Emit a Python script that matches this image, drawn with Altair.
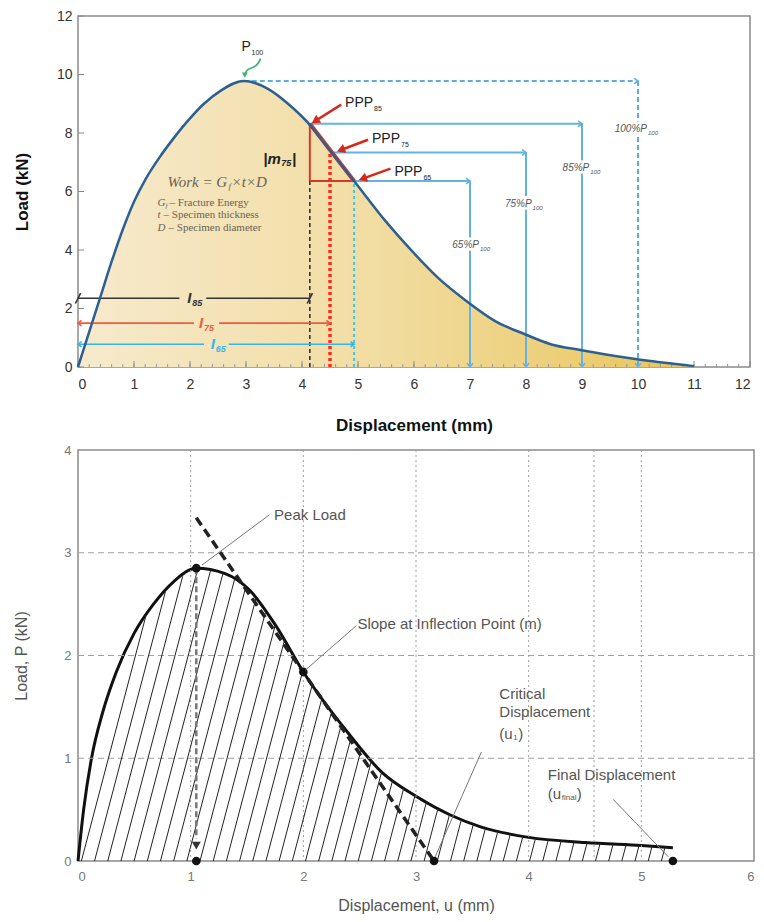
import altair as alt
import numpy as np
import pandas as pd

# ================= TOP PANEL VALUES =================
top_disp = [0, 0.2, 0.4, 0.6, 0.8, 1.0, 1.2, 1.45, 1.72, 2.0, 2.25, 2.55, 2.96, 3.4, 3.75,
            4.14, 4.5, 4.93, 5.5, 5.97, 6.44, 6.94, 7.45, 7.98, 8.44, 8.97, 9.95, 11.0]
top_load = [0, 1.2, 2.4, 3.6, 4.7, 5.65, 6.4, 7.15, 7.85, 8.5, 9.0, 9.45, 9.78, 9.5, 9.0,
            8.28, 7.4, 6.36, 4.97, 3.95, 3.03, 2.25, 1.57, 1.12, 0.78, 0.58, 0.27, 0.03]
peak_disp = 2.96
peak_load = 9.78
ppp_pct = [85, 75, 65]
ppp_disp = [4.14, 4.5, 4.93]
ppp_vline = [9, 8, 7]
peak_vline = 10
top_xticks = list(range(0, 13))
top_yticks = list(range(0, 13, 2))
top_minor = [round(0.2 * i, 1) for i in range(61)]

i_names = ["85", "75", "65"]
i_y = [2.35, 1.5, 0.78]
i_gap = [(1.81, 2.29), (2.07, 2.52), (2.25, 2.69)]
i_label_x = [1.95, 2.16, 2.37]
i_colors = ["#333333", "#f25a3c", "#36b6e6"]

ppp_label_x = [4.77, 5.25, 5.65]
ppp_label_y = [9.04, 7.81, 6.65]
ppp_arrow_from = [(4.70, 8.97), (5.18, 7.77), (5.58, 6.78)]
ppp_arrow_to = [(4.16, 8.32), (4.61, 7.36), (5.0, 6.38)]
pct_labels = ["100%P", "85%P", "75%P", "65%P"]
pct_label_x = [10.16, 9.13, 8.1, 7.16]
pct_label_y = [8.14, 6.82, 5.56, 4.16]
p100_pos = (2.92, 10.94)
p100_arrow = [(3.26, 10.54), (3.19, 10.26), (3.01, 10.19), (2.98, 9.98)]
m75_pos = (3.31, 7.12)
formula_pos = (1.6, 6.34)
legend_x = 1.42
legend_y = [5.62, 5.2, 4.76]

# ================= BOTTOM PANEL VALUES =================
bot_disp = [0, 0.05, 0.12, 0.22, 0.34, 0.5, 0.67, 0.85, 1.05, 1.3, 1.52, 1.75, 2.0, 2.38, 2.7,
            3.0, 3.3, 3.58, 4.0, 4.5, 5.0, 5.28]
bot_load = [0, 0.5, 1.0, 1.45, 1.84, 2.22, 2.5, 2.72, 2.85, 2.8, 2.64, 2.3, 1.84, 1.27, 0.86,
            0.63, 0.45, 0.33, 0.23, 0.18, 0.15, 0.13]
bot_peak = (1.05, 2.85)
bot_inflect = (2.0, 1.84)
tangent = [(1.05, 3.34), (3.16, 0.0)]
u_crit = 3.16
u_final = 5.28
bot_xticks = [0, 1, 2, 3, 4, 5, 6]
bot_yticks = [0, 1, 2, 3, 4]
grid_v = [1, 2, 3, 4, 4.58, 5]
grid_h = [1, 2, 3]
hatch_step = 0.117
hatch_lean = 0.24
leaders = [((1.1, 2.88), (1.7, 3.37)), ((2.02, 1.86), (2.47, 2.29)),
           ((3.17, 0.04), (3.58, 1.06)), ((4.75, 0.6), (5.24, 0.04))]
bot_labels = [(1.74, 3.37, "Peak Load"), (2.48, 2.31, "Slope at Inflection Point (m)"),
              (3.74, 1.63, "Critical"), (3.74, 1.45, "Displacement"),
              (4.17, 0.84, "Final Displacement")]
u1_pos = (3.74, 1.24)
ufinal_pos = (4.17, 0.65)

SANS = "Liberation Sans"
SERIF = "Liberation Serif"


def ex(sc):
    return alt.X("x:Q", scale=sc)


def ey(sc):
    return alt.Y("y:Q", scale=sc)


def seg_layer(rows, sx, sy, **mk):
    df = pd.DataFrame(rows, columns=["x", "y", "x2", "y2"])
    return alt.Chart(df).mark_rule(**mk).encode(x=ex(sx), y=ey(sy), x2="x2:Q", y2="y2:Q")


def pt_layer(rows, sx, sy, **mk):
    df = pd.DataFrame(rows, columns=["x", "y", "a"])
    return alt.Chart(df).mark_point(**mk).encode(
        x=ex(sx), y=ey(sy), angle=alt.Angle("a:Q", scale=None))


def txt_layer(rows, sx, sy, **mk):
    df = pd.DataFrame(rows, columns=["x", "y", "t"])
    return alt.Chart(df).mark_text(**mk).encode(x=ex(sx), y=ey(sy), text="t:N")


# ================= TOP PANEL =================
W1, H1 = 672, 351
XS1 = alt.Scale(domain=[0, 12], nice=False, zero=False)
YS1 = alt.Scale(domain=[0, 12], nice=False, zero=False)
px1 = W1 / 12.0
py1 = H1 / 12.0

df_top = pd.DataFrame({"x": top_disp, "y": top_load})
grad = alt.Gradient(
    gradient="linear",
    stops=[alt.GradientStop(color="#f7eacd", offset=0),
           alt.GradientStop(color="#f1dca0", offset=0.5),
           alt.GradientStop(color="#eac55a", offset=1)],
    x1=0, x2=1, y1=0, y2=0)

area = alt.Chart(df_top).mark_area(interpolate="monotone", fill=grad).encode(
    x=alt.X("x:Q", scale=XS1, axis=alt.Axis(
        values=top_xticks, format="d", title="Displacement (mm)", grid=False, ticks=False, domain=False,
        labelFont=SANS, labelFontSize=14, labelColor="#333", labelPadding=10,
        titleFont=SANS, titleFontSize=17, titleFontWeight="bold", titleColor="#111",
        titlePadding=26, minExtent=24, maxExtent=24)),
    y=alt.Y("y:Q", scale=YS1, axis=alt.Axis(
        values=top_yticks, format="d", title="Load (kN)", grid=False, ticks=False, domain=False,
        labelFont=SANS, labelFontSize=14, labelColor="#333", labelPadding=6,
        titleFont=SANS, titleFontSize=17, titleFontWeight="bold", titleColor="#111",
        titlePadding=25, minExtent=22, maxExtent=22)))

tick_major_x = alt.Chart(pd.DataFrame({"x": top_xticks})).mark_rule(color="#888", strokeWidth=1).encode(
    x=ex(XS1), y=alt.value(H1), y2=alt.value(H1 - 6))
tick_minor_x = alt.Chart(pd.DataFrame({"x": top_minor})).mark_rule(color="#999", strokeWidth=1).encode(
    x=ex(XS1), y=alt.value(H1), y2=alt.value(H1 - 3))
tick_major_y = alt.Chart(pd.DataFrame({"y": top_yticks})).mark_rule(color="#888", strokeWidth=1).encode(
    y=ey(YS1), x=alt.value(0), x2=alt.value(6))

ppp_load = [p / 100.0 * peak_load for p in ppp_pct]
BLUE = "#64b2e2"

peak_lines = seg_layer([(peak_disp, peak_load, peak_vline, peak_load),
                        (peak_vline, peak_load, peak_vline, 0)], XS1, YS1,
                       color="#5aaee0", strokeWidth=2, strokeDash=[5, 3])
solid_rows = []
chev_rows = [(peak_vline, peak_load, 0), (peak_vline, 0, 90)]
for xd, yl, xv in zip(ppp_disp, ppp_load, ppp_vline):
    solid_rows.append((xd, yl, xv, yl))
    solid_rows.append((xv, yl, xv, 0))
    chev_rows.append((xv, yl, 0))
    chev_rows.append((xv, 0, 90))
level_lines = seg_layer(solid_rows, XS1, YS1, color=BLUE, strokeWidth=2)
CHEV = "M-1,-0.75L0,0L-1,0.75"
level_chev = pt_layer(chev_rows, XS1, YS1, shape=CHEV, filled=False, size=60,
                      strokeWidth=1.6, color=BLUE, opacity=1)

pct_rows = list(zip(pct_label_x, pct_label_y, pct_labels))
pct_sub = [(x, y, "100") for x, y in zip(pct_label_x, pct_label_y)]
pct_halo = txt_layer(pct_rows, XS1, YS1, align="right", baseline="middle", font=SANS, fontSize=10,
                     fontStyle="italic", color="white", stroke="white", strokeWidth=5)
pct_text = txt_layer(pct_rows, XS1, YS1, align="right", baseline="middle", font=SANS, fontSize=10,
                     fontStyle="italic", color="#555")
pct_sub_halo = txt_layer(pct_sub, XS1, YS1, align="left", baseline="middle", font=SANS, fontSize=6,
                         fontStyle="italic", color="white", stroke="white", strokeWidth=4, dx=1, dy=4)
pct_sub_text = txt_layer(pct_sub, XS1, YS1, align="left", baseline="middle", font=SANS, fontSize=6,
                         fontStyle="italic", color="#555", dx=1, dy=4)

vdash_black = seg_layer([(ppp_disp[0], 0, ppp_disp[0], ppp_load[2])], XS1, YS1,
                        color="#333", strokeWidth=1.6, strokeDash=[4, 3])
vdash_red = seg_layer([(ppp_disp[1], 0, ppp_disp[1], ppp_load[1])], XS1, YS1,
                      color="#ff2a1a", strokeWidth=3.5, strokeDash=[3, 3])
vdash_cyan = seg_layer([(ppp_disp[2], 0, ppp_disp[2], ppp_load[2])], XS1, YS1,
                       color="#3cc8e8", strokeWidth=2, strokeDash=[3, 3])

tri_legs = seg_layer([(ppp_disp[0], ppp_load[2], ppp_disp[0], ppp_load[0]),
                      (ppp_disp[0], ppp_load[2], ppp_disp[2], ppp_load[2])], XS1, YS1,
                     color="#d63a26", strokeWidth=2)
tri_hyp = seg_layer([(ppp_disp[0], ppp_load[0], ppp_disp[2], ppp_load[2])], XS1, YS1,
                    color="#d63a26", strokeWidth=4)

i_layers = []
for k in range(3):
    yv, (g0, g1), xe, col = i_y[k], i_gap[k], ppp_disp[k], i_colors[k]
    i_layers.append(seg_layer([(0, yv, g0, yv), (g1, yv, xe, yv)], XS1, YS1, color=col, strokeWidth=1.6))
    if k == 0:
        i_layers.append(pt_layer([(0, yv, 0), (xe, yv, 0)], XS1, YS1, shape="M-0.5,1L0.5,-1",
                                 filled=False, size=110, strokeWidth=1.6, color=col, opacity=1))
    else:
        i_layers.append(pt_layer([(0, yv, 180), (xe, yv, 0)], XS1, YS1, shape=CHEV,
                                 filled=False, size=50, strokeWidth=1.6, color=col, opacity=1))
    i_layers.append(txt_layer([(i_label_x[k], yv, "I")], XS1, YS1, align="left", baseline="middle",
                              font=SANS, fontSize=15, fontStyle="italic", fontWeight="bold", color=col))
    i_layers.append(txt_layer([(i_label_x[k], yv, i_names[k])], XS1, YS1, align="left", baseline="middle",
                              font=SANS, fontSize=9, fontStyle="italic", fontWeight="bold", color=col,
                              dx=5, dy=5))

curve_top = alt.Chart(df_top).mark_line(interpolate="monotone", color="#2d5f90", strokeWidth=2.5).encode(
    x=ex(XS1), y=ey(YS1))

# red arrows to PPP points
arrow_rows = []
head_rows = []
for (x0, y0), (x1, y1) in zip(ppp_arrow_from, ppp_arrow_to):
    dxp = (x1 - x0) * px1
    dyp = -(y1 - y0) * py1
    L = np.hypot(dxp, dyp)
    ang = (np.degrees(np.arctan2(dxp, -dyp)) + 360) % 360
    back = 5.0
    hx = x1 - dxp / L * back / px1
    hy = y1 + dyp / L * back / py1
    arrow_rows.append((x0, y0, hx, hy))
    head_rows.append((hx, hy, float(ang)))
red_arrow = seg_layer(arrow_rows, XS1, YS1, color="#d42a1c", strokeWidth=2.5)
red_heads = pt_layer(head_rows, XS1, YS1, shape="triangle-up", filled=True, size=90,
                     color="#d42a1c", opacity=1)
ppp_text = txt_layer([(x, y, "PPP") for x, y in zip(ppp_label_x, ppp_label_y)], XS1, YS1,
                     align="left", baseline="middle", font=SANS, fontSize=14, color="#222")
ppp_sub = txt_layer([(x, y, n) for x, y, n in zip(ppp_label_x, ppp_label_y, i_names)], XS1, YS1,
                    align="left", baseline="middle", font=SANS, fontSize=7, color="#222", dx=29, dy=6)

# P100 marker
p100_text = txt_layer([(p100_pos[0], p100_pos[1], "P")], XS1, YS1, align="left", baseline="middle",
                      font=SANS, fontSize=14, color="#222")
p100_sub = txt_layer([(p100_pos[0], p100_pos[1], "100")], XS1, YS1, align="left", baseline="middle",
                     font=SANS, fontSize=7, color="#222", dx=10, dy=6)
df_green = pd.DataFrame({"x": [p[0] for p in p100_arrow], "y": [p[1] for p in p100_arrow],
                         "i": list(range(len(p100_arrow)))})
green_line = alt.Chart(df_green).mark_line(interpolate="basis", color="#3cb371", strokeWidth=1.8).encode(
    x=ex(XS1), y=ey(YS1), order="i:Q")
green_head = pt_layer([(p100_arrow[-1][0], p100_arrow[-1][1], 180)], XS1, YS1, shape="triangle-up",
                      filled=True, size=35, color="#3cb371", opacity=1)

m75 = alt.layer(
    txt_layer([(m75_pos[0], m75_pos[1], "|m")], XS1, YS1, align="left", baseline="middle", font=SANS,
              fontSize=15, fontStyle="italic", fontWeight="bold", color="#222"),
    txt_layer([(m75_pos[0], m75_pos[1], "75")], XS1, YS1, align="left", baseline="middle", font=SANS,
              fontSize=9, fontStyle="italic", fontWeight="bold", color="#222", dx=18, dy=4),
    txt_layer([(m75_pos[0], m75_pos[1], "|")], XS1, YS1, align="left", baseline="middle", font=SANS,
              fontSize=15, fontWeight="bold", color="#222", dx=29),
)

FCOL = "#6a6253"
formula = alt.layer(
    txt_layer([(formula_pos[0], formula_pos[1], "Work = G")], XS1, YS1, align="left", baseline="middle",
              font=SERIF, fontSize=15, fontStyle="italic", color=FCOL),
    txt_layer([(formula_pos[0], formula_pos[1], "f")], XS1, YS1, align="left", baseline="middle",
              font=SERIF, fontSize=9, fontStyle="italic", color=FCOL, dx=61, dy=4),
    txt_layer([(formula_pos[0], formula_pos[1], "×t×D")], XS1, YS1, align="left", baseline="middle",
              font=SERIF, fontSize=15, fontStyle="italic", color=FCOL, dx=64),
    txt_layer([(legend_x, legend_y[0], "G"), (legend_x, legend_y[1], "t"), (legend_x, legend_y[2], "D")],
              XS1, YS1, align="left", baseline="middle", font=SERIF, fontSize=11, fontStyle="italic", color=FCOL),
    txt_layer([(legend_x, legend_y[0], "f")], XS1, YS1, align="left", baseline="middle",
              font=SERIF, fontSize=7, fontStyle="italic", color=FCOL, dx=8, dy=3),
    txt_layer([(legend_x, legend_y[0], "– Fracture Energy")], XS1, YS1, align="left", baseline="middle",
              font=SERIF, fontSize=11, color=FCOL, dx=12),
    txt_layer([(legend_x, legend_y[1], "– Specimen thickness")], XS1, YS1, align="left", baseline="middle",
              font=SERIF, fontSize=11, color=FCOL, dx=6),
    txt_layer([(legend_x, legend_y[2], "– Specimen diameter")], XS1, YS1, align="left", baseline="middle",
              font=SERIF, fontSize=11, color=FCOL, dx=11),
)

top = alt.layer(
    area, tick_minor_x, tick_major_x, tick_major_y,
    peak_lines, level_lines, level_chev,
    vdash_black, vdash_red, vdash_cyan, tri_legs, tri_hyp,
    *i_layers, curve_top,
    pct_halo, pct_sub_halo, pct_text, pct_sub_text,
    red_arrow, red_heads, ppp_text, ppp_sub,
    p100_text, p100_sub, green_line, green_head, m75, formula,
).properties(width=W1, height=H1)

# ================= BOTTOM PANEL =================
W2, H2 = 676, 411
XS2 = alt.Scale(domain=[0, 6], nice=False, zero=False)
YS2 = alt.Scale(domain=[0, 4], nice=False, zero=False)
df_bot = pd.DataFrame({"x": bot_disp, "y": bot_load})

grid_vl = alt.Chart(pd.DataFrame({"x": grid_v})).mark_rule(color="#a0a0a0", strokeWidth=1, strokeDash=[2, 3]).encode(
    x=ex(XS2))
grid_hl = alt.Chart(pd.DataFrame({"y": grid_h})).mark_rule(color="#a0a0a0", strokeWidth=1, strokeDash=[6, 4]).encode(
    y=ey(YS2))

# hatch lines derived from the curve
bx = np.array(bot_disp)
by = np.array(bot_load)
yy = np.linspace(0, 3.0, 3001)
hatch_rows = []
for x0 in np.arange(0.03, bot_disp[-1], hatch_step):
    xx = x0 + hatch_lean * yy
    inside = (xx <= bx[-1]) & (yy <= np.interp(xx, bx, by))
    idx = np.argmin(inside) if not inside.all() else len(yy) - 1
    ye = yy[max(idx - 1, 0)]
    if ye > 0.01:
        hatch_rows.append((float(x0), 0.0, float(x0 + hatch_lean * ye), float(ye)))
hatch = seg_layer(hatch_rows, XS2, YS2, color="#222", strokeWidth=1)

curve_bot = alt.Chart(df_bot).mark_line(interpolate="monotone", color="#111", strokeWidth=3).encode(
    x=alt.X("x:Q", scale=XS2, axis=alt.Axis(
        values=bot_xticks, format="d", title="Displacement, u (mm)", grid=False, ticks=False, domain=False,
        labelFont=SANS, labelFontSize=13, labelColor="#777", labelPadding=9,
        titleFont=SANS, titleFontSize=16, titleFontWeight="normal", titleColor="#555",
        titlePadding=14, minExtent=22, maxExtent=22)),
    y=alt.Y("y:Q", scale=YS2, axis=alt.Axis(
        values=bot_yticks, format="d", title="Load, P (kN)", grid=False, ticks=False, domain=False,
        labelFont=SANS, labelFontSize=13, labelColor="#777", labelPadding=7,
        titleFont=SANS, titleFontSize=16, titleFontWeight="normal", titleColor="#555",
        titlePadding=29, minExtent=20, maxExtent=20)))

tangent_line = seg_layer([(tangent[0][0], tangent[0][1], tangent[1][0], tangent[1][1])], XS2, YS2,
                         color="#222", strokeWidth=3.5, strokeDash=[9, 5])
peak_drop = seg_layer([(bot_peak[0], bot_peak[1], bot_peak[0], 0.22)], XS2, YS2,
                      color="#777", strokeWidth=2.5, strokeDash=[6, 3])
peak_head = pt_layer([(bot_peak[0], 0.15, 0)], XS2, YS2, shape="triangle-down", filled=True,
                     size=80, color="#333", opacity=1)
dots = pt_layer([(bot_peak[0], bot_peak[1], 0), (bot_inflect[0], bot_inflect[1], 0),
                 (bot_peak[0], 0, 0), (u_crit, 0, 0), (u_final, 0, 0)], XS2, YS2,
                shape="circle", filled=True, size=75, color="#111", opacity=1)
leader_l = seg_layer([(a[0], a[1], b[0], b[1]) for a, b in leaders], XS2, YS2,
                     color="#777", strokeWidth=1)
LCOL = "#555"
lab_main = txt_layer(bot_labels, XS2, YS2, align="left", baseline="middle", font=SANS,
                     fontSize=15, color=LCOL)
lab_u = alt.layer(
    txt_layer([(u1_pos[0], u1_pos[1], "(u"), (ufinal_pos[0], ufinal_pos[1], "(u")], XS2, YS2,
              align="left", baseline="middle", font=SANS, fontSize=15, color=LCOL),
    txt_layer([(u1_pos[0], u1_pos[1], "1"), (ufinal_pos[0], ufinal_pos[1], "final")], XS2, YS2,
              align="left", baseline="middle", font=SANS, fontSize=8, color=LCOL, dx=14, dy=4),
    txt_layer([(u1_pos[0], u1_pos[1], ")")], XS2, YS2,
              align="left", baseline="middle", font=SANS, fontSize=15, color=LCOL, dx=19),
    txt_layer([(ufinal_pos[0], ufinal_pos[1], ")")], XS2, YS2,
              align="left", baseline="middle", font=SANS, fontSize=15, color=LCOL, dx=29),
)

bottom = alt.layer(
    curve_bot, grid_vl, grid_hl, hatch, tangent_line, peak_drop, peak_head,
    dots, leader_l, lab_main, lab_u,
).properties(width=W2, height=H2)

chart = alt.vconcat(top, bottom, spacing=9).properties(
    padding={"left": 4, "top": 0, "right": 0, "bottom": 0}
).configure_view(stroke="#8a8a8a", strokeWidth=1.5)

chart.save("out.html", embed_options={"renderer": "svg", "actions": False})
